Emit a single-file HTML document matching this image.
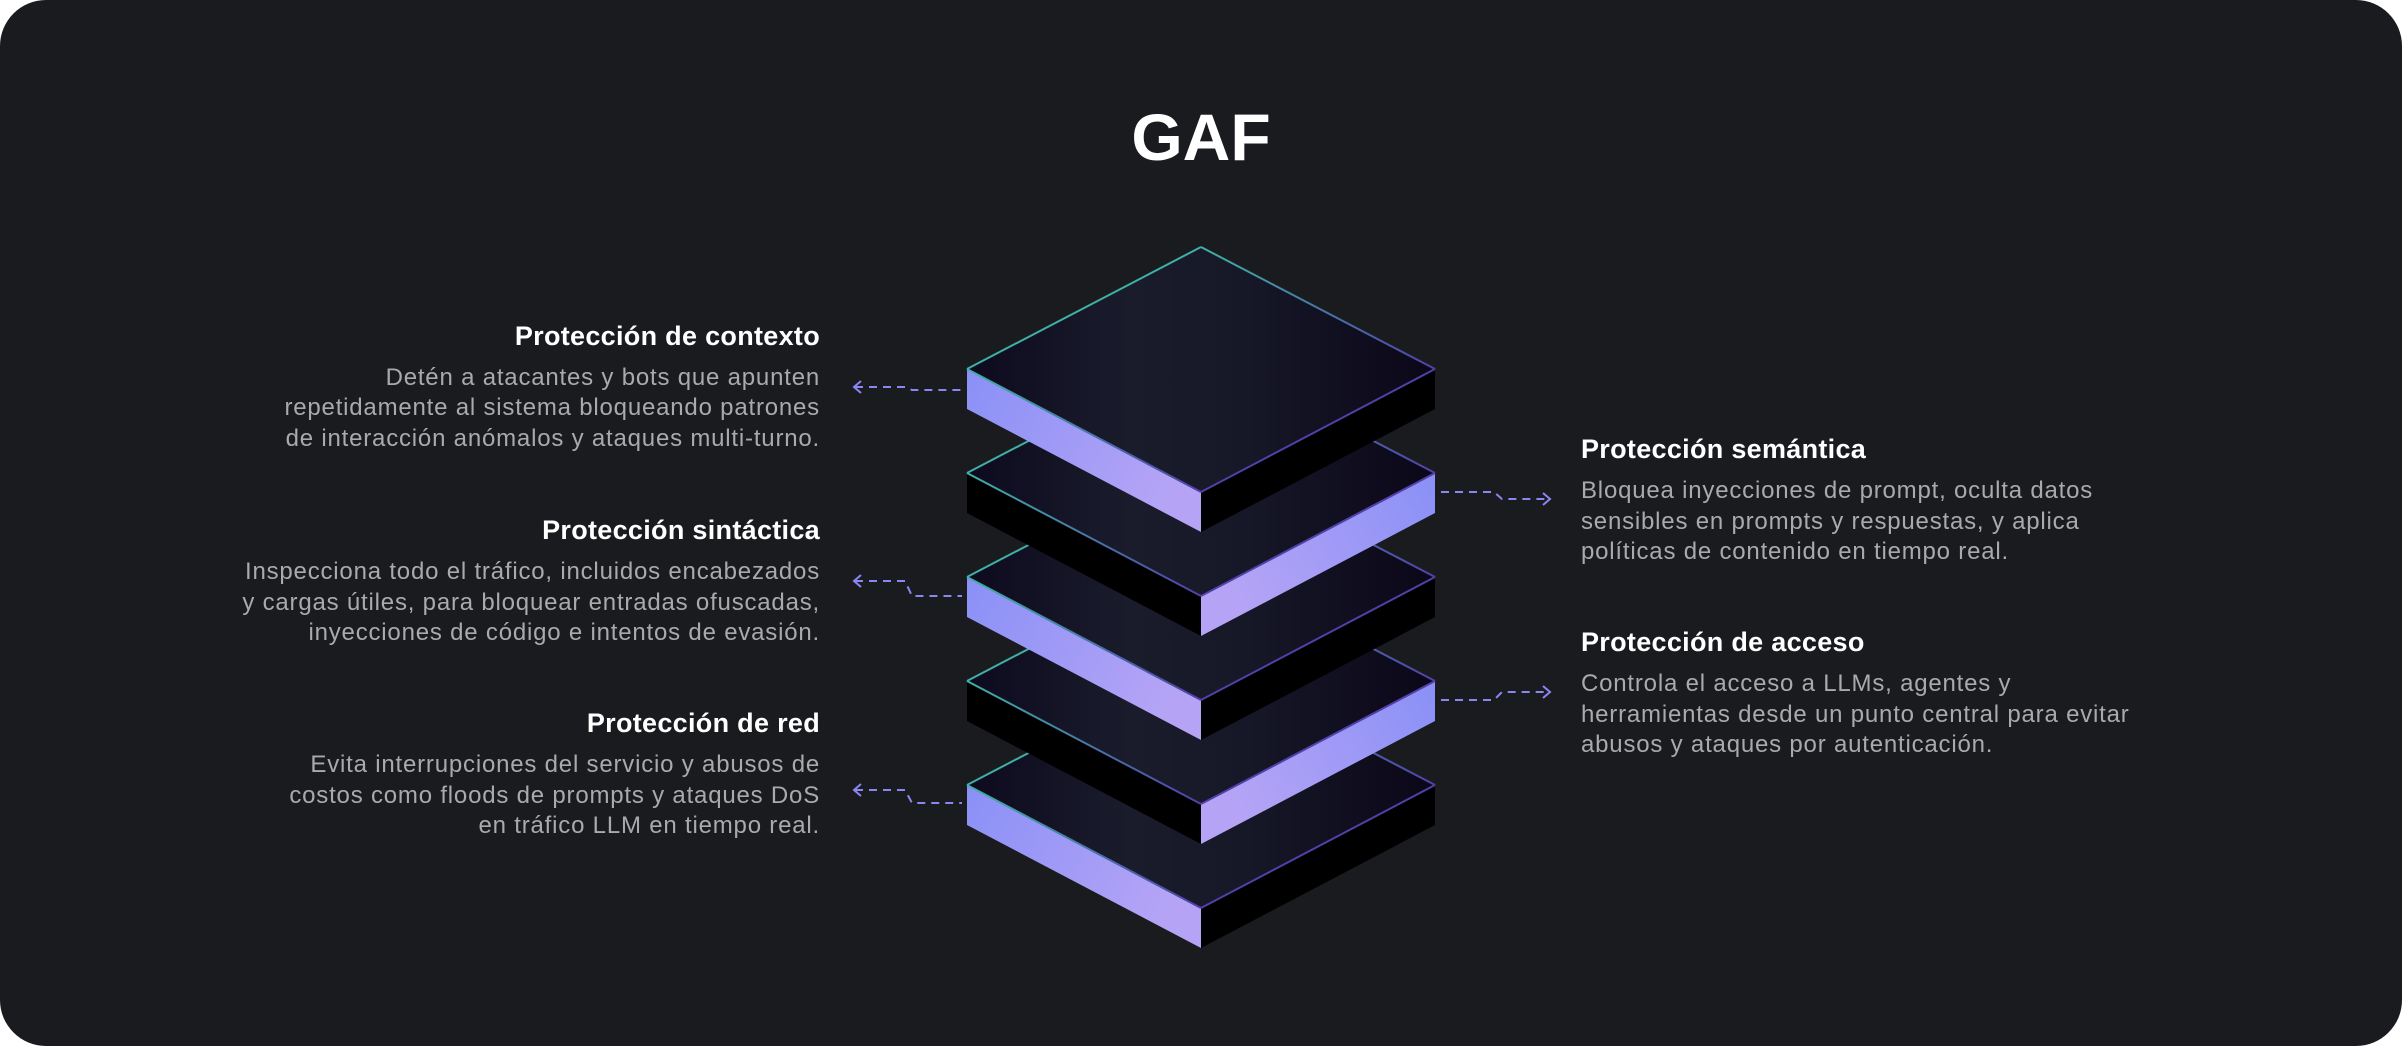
<!DOCTYPE html>
<html><head><meta charset="utf-8"><style>
html,body{margin:0;padding:0;background:#ffffff;}
svg{display:block;}
</style></head><body>
<svg width="2402" height="1046" viewBox="0 0 2402 1046" xmlns="http://www.w3.org/2000/svg">
<defs>
<linearGradient id="top" x1="967" y1="0" x2="1435" y2="0" gradientUnits="userSpaceOnUse">
<stop offset="0" stop-color="#0d0a1d"/><stop offset="0.35" stop-color="#1a1c2c"/><stop offset="0.6" stop-color="#161727"/><stop offset="1" stop-color="#0b0718"/>
</linearGradient>
<linearGradient id="lavL" x1="0" y1="0" x2="1" y2="0.4">
<stop offset="0" stop-color="#8a90f6"/><stop offset="1" stop-color="#b5a4f6"/>
</linearGradient>
<linearGradient id="lavR" x1="1" y1="0" x2="0" y2="0.4">
<stop offset="0" stop-color="#8a90f6"/><stop offset="1" stop-color="#b5a4f6"/>
</linearGradient>
<linearGradient id="edgeTR" x1="1201" y1="0" x2="1435" y2="0" gradientUnits="userSpaceOnUse">
<stop offset="0" stop-color="#3fb0a5"/><stop offset="1" stop-color="#5040a8"/>
</linearGradient>
<linearGradient id="edgeLF" x1="967" y1="0" x2="1201" y2="0" gradientUnits="userSpaceOnUse">
<stop offset="0" stop-color="#3fb0a5"/><stop offset="1" stop-color="#5040a8"/>
</linearGradient>
<g id="slabA">
<polygon points="967,369 1201,492 1201,532 967,409" fill="url(#lavL)"/>
<polygon points="1201,492 1435,369 1435,409 1201,532" fill="#000"/>
<polygon points="1201,247 967,369 1201,492 1435,369" fill="url(#top)"/>
<polyline points="967,369 1201,247" fill="none" stroke="#3fb0a5" stroke-width="2"/>
<polyline points="1201,247 1435,369" fill="none" stroke="url(#edgeTR)" stroke-width="2"/>
<polyline points="967,369 1201,492" fill="none" stroke="url(#edgeLF)" stroke-width="2"/>
<polyline points="1201,492 1435,369" fill="none" stroke="#5040a8" stroke-width="2"/>
</g>
<g id="slabB">
<polygon points="967,369 1201,492 1201,532 967,409" fill="#000"/>
<polygon points="1201,492 1435,369 1435,409 1201,532" fill="url(#lavR)"/>
<polygon points="1201,247 967,369 1201,492 1435,369" fill="url(#top)"/>
<polyline points="967,369 1201,247" fill="none" stroke="#3fb0a5" stroke-width="2"/>
<polyline points="1201,247 1435,369" fill="none" stroke="url(#edgeTR)" stroke-width="2"/>
<polyline points="967,369 1201,492" fill="none" stroke="url(#edgeLF)" stroke-width="2"/>
<polyline points="1201,492 1435,369" fill="none" stroke="#5040a8" stroke-width="2"/>
</g>
</defs>
<rect x="0" y="0" width="2402" height="1046" rx="46" ry="46" fill="#1a1b1f"/>

<text x="1201" y="160" text-anchor="middle" font-family="Liberation Sans, sans-serif" font-size="66" font-weight="bold" fill="#ffffff">GAF</text>

<use href="#slabA" transform="translate(0,416)"/>
<use href="#slabB" transform="translate(0,312)"/>
<use href="#slabA" transform="translate(0,208)"/>
<use href="#slabB" transform="translate(0,104)"/>
<use href="#slabA"/>

<g fill="none" stroke="#8a86f2" stroke-width="2">
<polyline points="855,387 905,387 912,390 962,390" stroke-dasharray="8,6"/>
<polyline points="861,381 854,387 861,393"/>
<polyline points="855,581 905,581 912,596 962,596" stroke-dasharray="8,6"/>
<polyline points="861,575 854,581 861,587"/>
<polyline points="855,790 905,790 912,803 962,803" stroke-dasharray="8,6"/>
<polyline points="861,784 854,790 861,796"/>
<polyline points="1441,492 1494,492 1502,499 1549,499" stroke-dasharray="8,6"/>
<polyline points="1543,493 1550,499 1543,505"/>
<polyline points="1441,700 1494,700 1502,692 1549,692" stroke-dasharray="8,6"/>
<polyline points="1543,686 1550,692 1543,698"/>
</g>

<g font-family="Liberation Sans, sans-serif">
<g text-anchor="end">
<text x="820" y="345" font-size="27" font-weight="bold" fill="#ffffff" letter-spacing="0.3">Protección de contexto</text>
<g font-size="24" fill="#a9a9ae" letter-spacing="0.8">
<text x="820" y="385">Detén a atacantes y bots que apunten</text>
<text x="820" y="415">repetidamente al sistema bloqueando patrones</text>
<text x="820" y="446">de interacción anómalos y ataques multi-turno.</text>
</g>
<text x="820" y="539" font-size="27" font-weight="bold" fill="#ffffff" letter-spacing="0.3">Protección sintáctica</text>
<g font-size="24" fill="#a9a9ae" letter-spacing="0.8">
<text x="820" y="579">Inspecciona todo el tráfico, incluidos encabezados</text>
<text x="820" y="610">y cargas útiles, para bloquear entradas ofuscadas,</text>
<text x="820" y="640">inyecciones de código e intentos de evasión.</text>
</g>
<text x="820" y="732" font-size="27" font-weight="bold" fill="#ffffff" letter-spacing="0.3">Protección de red</text>
<g font-size="24" fill="#a9a9ae" letter-spacing="0.8">
<text x="820" y="772">Evita interrupciones del servicio y abusos de</text>
<text x="820" y="803">costos como floods de prompts y ataques DoS</text>
<text x="820" y="833">en tráfico LLM en tiempo real.</text>
</g>
</g>
<text x="1581" y="458" font-size="27" font-weight="bold" fill="#ffffff" letter-spacing="0.3">Protección semántica</text>
<g font-size="24" fill="#a9a9ae" letter-spacing="0.8">
<text x="1581" y="498">Bloquea inyecciones de prompt, oculta datos</text>
<text x="1581" y="529">sensibles en prompts y respuestas, y aplica</text>
<text x="1581" y="559">políticas de contenido en tiempo real.</text>
</g>
<text x="1581" y="651" font-size="27" font-weight="bold" fill="#ffffff" letter-spacing="0.3">Protección de acceso</text>
<g font-size="24" fill="#a9a9ae" letter-spacing="0.8">
<text x="1581" y="691">Controla el acceso a LLMs, agentes y</text>
<text x="1581" y="722">herramientas desde un punto central para evitar</text>
<text x="1581" y="752">abusos y ataques por autenticación.</text>
</g>
</g>
</svg>
</body></html>
